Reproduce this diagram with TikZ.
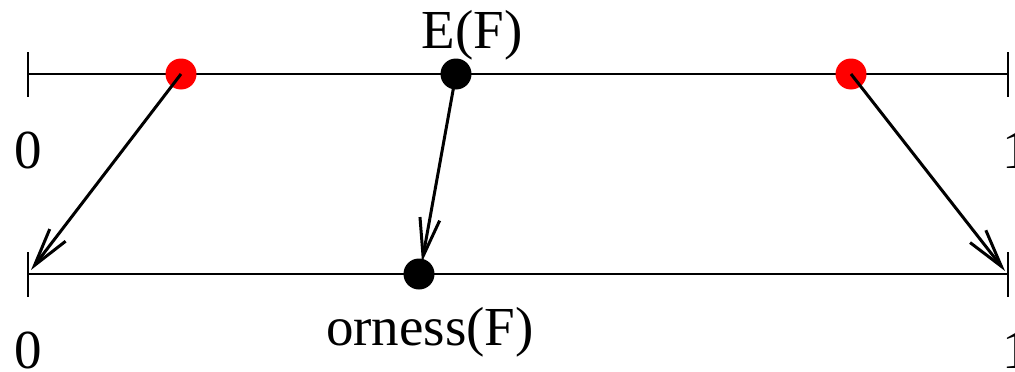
\documentclass[tikz,border=0pt]{standalone}
\usepackage{fontspec}
\setmainfont{Liberation Serif}
\usetikzlibrary{arrows.meta}
\begin{document}
\begin{tikzpicture}[x=1pt,y=-1pt,
  axis/.style={line width=1.5pt},
  tickmark/.style={line width=1.5pt},
  dotred/.style={circle,fill=red,inner sep=0pt,minimum size=31pt},
  dotblack/.style={circle,fill=black,inner sep=0pt,minimum size=31pt},
  mapto/.style={line width=3pt,-{Straight Barb[length=38pt,width=20pt,line width=3pt]}},
  lbl/.style={inner sep=0pt,font=\fontsize{55}{60}\selectfont}]
\useasboundingbox (0,0) rectangle (1015,372);
% top axis
\coordinate (tl) at (28,74);
\coordinate (tr) at (1008,74);
\draw[axis] (tl) -- (tr);
\draw[tickmark] (28,52) -- (28,97);
\draw[tickmark] (1008,52) -- (1008,97);
% bottom axis
\coordinate (bl) at (28,274);
\coordinate (br) at (1008,274);
\draw[axis] (bl) -- (br);
\draw[tickmark] (28,252) -- (28,297);
\draw[tickmark] (1008,252) -- (1008,297);
% dots
\node[dotred] (r1) at (181,74) {};
\node[dotred] (r2) at (851,74) {};
\node[dotblack] (e) at (456,74) {};
\node[dotblack] (o) at (419,274) {};
% arrow targets
\coordinate (t1) at (31,270);
\coordinate (t2) at (1005,271);
\coordinate (t3) at (422,262);
\draw[mapto] (r1.center) -- (t1);
\draw[mapto] (r2.center) -- (t2);
\draw[mapto] (e.center) -- (t3);
% labels
\node[lbl,anchor=base] (ef) at (472,48) {E(F)};
\node[lbl,anchor=base] (or) at (430,345) {orness(F)};
\node[lbl,anchor=base] (z1) at (28,168) {0};
\node[lbl,anchor=base] (z2) at (28,368) {0};
\node[lbl,anchor=base west] (o1) at (1002,168) {1};
\node[lbl,anchor=base west] (o2) at (1002,368) {1};
\end{tikzpicture}
\end{document}
